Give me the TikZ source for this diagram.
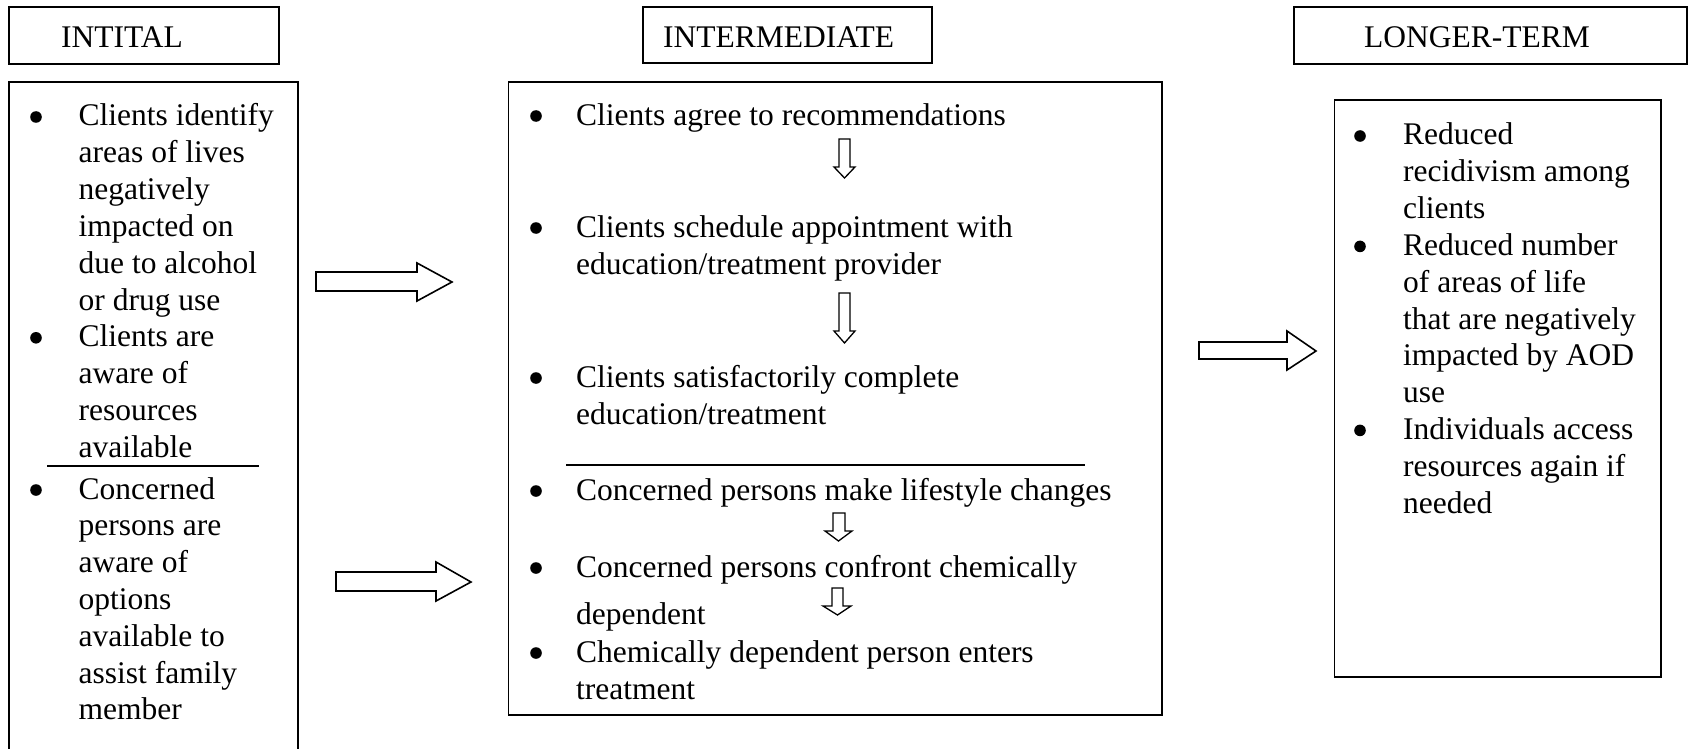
\documentclass[tikz,border=0pt]{standalone}
\usepackage{fontspec}
\setmainfont{Liberation Serif}
\begin{document}
\begin{tikzpicture}[x=1pt,y=-1pt,
  box/.style={draw=black,line width=1.8pt,inner sep=0pt},
  txt/.style={anchor=base west,inner sep=0pt,font=\fontsize{31.5}{36.8}\selectfont},
  blk/.style={draw=black,line width=1.6pt,fill=white,line join=miter},
  sep/.style={draw=black,line width=2pt},
  bul/.style={fill=black}]
\useasboundingbox (0,0) rectangle (1699,749);

% header boxes
\node[box,minimum width=270pt,minimum height=57pt] (h1) at (144,35.5) {};
\node[box,minimum width=289pt,minimum height=56pt] (h2) at (787.5,35) {};
\node[box,minimum width=393pt,minimum height=57pt] (h3) at (1490.5,35.5) {};
\node[txt] (t1) at (61,48) {INTITAL};
\node[txt] (t2) at (663,48) {INTERMEDIATE};
\node[txt] (t3) at (1364,48) {LONGER-TERM};

% body boxes
\draw[box] (9,749) -- (9,82) -- (298,82) -- (298,749);
\node[box,minimum width=653.5pt,minimum height=633pt] (mid) at (835.25,398.5) {};
\node[box,minimum width=326.5pt,minimum height=577pt] (rgt) at (1497.75,388.5) {};

% left column text
\foreach \t [count=\k from 0] in {Clients identify,areas of lives,negatively,impacted on,due to alcohol,or drug use,Clients are,aware of,resources,available}
  \node[txt] (la\k) at (78.5,126+36.8*\k) {\t};
\foreach \t [count=\k from 0] in {Concerned,persons are,aware of,options,available to,assist family,member}
  \node[txt] (lb\k) at (78.5,499+36.8*\k) {\t};
\foreach \y in {126,346.8,499} \fill[bul] (36,\y-9) circle (5.8pt);
\draw[sep] (47,466) -- (259,466);

% middle column text
\node[txt] (m1) at (576,125) {Clients agree to recommendations};
\node[txt] (m2) at (576,237) {Clients schedule appointment with};
\node[txt] (m2b) at (576,274) {education/treatment provider};
\node[txt] (m3) at (576,387) {Clients satisfactorily complete};
\node[txt] (m3b) at (576,424) {education/treatment};
\node[txt] (m4) at (576,500) {Concerned persons make lifestyle changes};
\node[txt] (m5) at (576,577) {Concerned persons confront chemically};
\node[txt] (m5b) at (576,624) {dependent};
\node[txt] (m6) at (576,662) {Chemically dependent person enters};
\node[txt] (m6b) at (576,699) {treatment};
\foreach \y in {125,237,387,500,577,662} \fill[bul] (536,\y-9) circle (5.8pt);
\draw[sep] (566,465) -- (1085,465);

% small down arrows
\draw[blk,line width=1.3pt] (839,139) -- (850,139) -- (850,167) -- (855,167) -- (844.5,178) -- (834,167) -- (839,167) -- cycle;
\draw[blk,line width=1.3pt] (839,293) -- (850,293) -- (850,331) -- (855,331) -- (844.5,343) -- (834,331) -- (839,331) -- cycle;
\draw[blk,line width=1.3pt] (833,513) -- (845,513) -- (845,531) -- (852,531) -- (838.5,541) -- (825,531) -- (833,531) -- cycle;
\draw[blk,line width=1.3pt] (832,588) -- (843,588) -- (843,606) -- (851,606) -- (837.5,615) -- (823,606) -- (832,606) -- cycle;

% right column text
\foreach \t [count=\k from 0] in {Reduced,recidivism among,clients,Reduced number,of areas of life,that are negatively,impacted by AOD,use,Individuals access,resources again if,needed}
  \node[txt] (r\k) at (1403,145+36.8*\k) {\t};
\foreach \y in {145,255.4,439.4} \fill[bul] (1360,\y-9) circle (5.8pt);

% big block arrows
\draw[blk] (316,272) -- (417,272) -- (417,263) -- (452,282) -- (417,301) -- (417,291) -- (316,291) -- cycle;
\draw[blk] (336,572) -- (436,572) -- (436,562) -- (471,582) -- (436,601) -- (436,591) -- (336,591) -- cycle;
\draw[blk] (1199,342) -- (1287,342) -- (1287,331) -- (1316,351) -- (1287,370) -- (1287,359) -- (1199,359) -- cycle;
\end{tikzpicture}
\end{document}
